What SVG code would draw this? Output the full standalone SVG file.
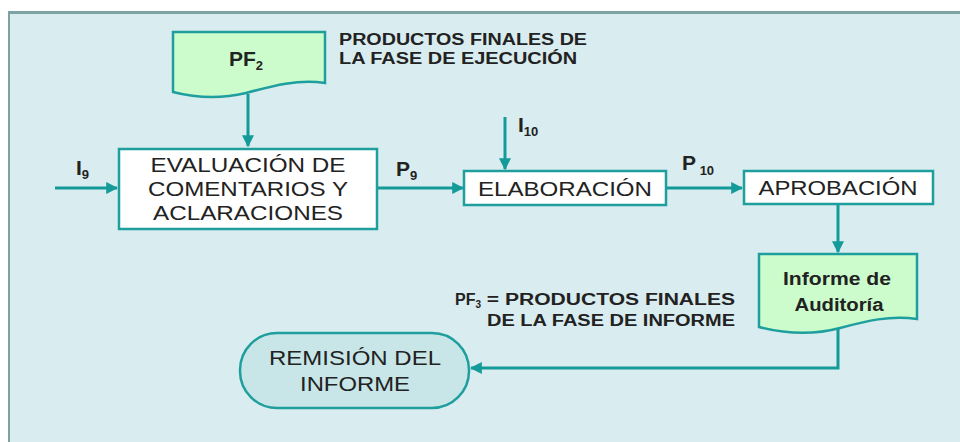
<svg xmlns="http://www.w3.org/2000/svg" width="960" height="442" viewBox="0 0 960 442">
<defs>
<style>
.box{fill:#ffffff;stroke:#1f9e9e;stroke-width:2.5}
.doc{fill:#ccfccc;stroke:#1f9e9e;stroke-width:2.5}
.term{fill:#c8e6e8;stroke:#1f9e9e;stroke-width:2.5}
.conn{fill:none;stroke:#159a9a;stroke-width:3}
.t{font-family:"Liberation Sans",Arial,sans-serif;fill:#222222}
.big{font-size:21px;text-anchor:middle}
.lbl{font-size:21px;font-weight:bold}
.sub{font-size:13px;font-weight:bold}
.note{font-size:16px;font-weight:bold}
.doct{font-size:18px;font-weight:bold;text-anchor:middle}
</style>
<marker id="ah" viewBox="0 0 10 10" refX="9" refY="5" markerWidth="4" markerHeight="4" orient="auto" markerUnits="strokeWidth">
<path d="M0,0 L10,5 L0,10 Z" fill="#159a9a"/>
</marker>
</defs>
<rect x="0" y="0" width="960" height="442" fill="#ffffff"/>
<rect x="8" y="12" width="952" height="430" fill="#d9ecef"/>
<rect x="8" y="11" width="952" height="3" fill="#7fa3a5"/>
<rect x="8" y="11" width="2" height="431" fill="#7fa3a5"/>

<g id="connectors">
<path class="conn" d="M248,94 V146" marker-end="url(#ah)"/>
<path class="conn" d="M55,188 H117" marker-end="url(#ah)"/>
<path class="conn" d="M377,188 H463" marker-end="url(#ah)"/>
<path class="conn" d="M505,117 V169" marker-end="url(#ah)"/>
<path class="conn" d="M666,188 H742" marker-end="url(#ah)"/>
<path class="conn" d="M838,204 V252" marker-end="url(#ah)"/>
<path class="conn" d="M838,328 V368 H471" marker-end="url(#ah)"/>
</g>

<g id="pf2">
<path class="doc" d="M173,32 H325 V83 C297,79 272,86 246,93 C221,99 196,98 173,92 Z"/>
<text class="t lbl" x="229" y="66">PF<tspan class="sub" dy="4">2</tspan></text>
</g>

<g id="note-pf2">
<text class="t note" x="339" y="45" textLength="248" lengthAdjust="spacingAndGlyphs">PRODUCTOS FINALES DE</text>
<text class="t note" x="339" y="64" textLength="238" lengthAdjust="spacingAndGlyphs">LA FASE DE EJECUCIÓN</text>
</g>

<g id="evaluacion">
<rect class="box" x="119" y="149" width="258" height="80"/>
<text class="t big" x="248" y="172" textLength="195" lengthAdjust="spacingAndGlyphs">EVALUACIÓN DE</text>
<text class="t big" x="248" y="196" textLength="200" lengthAdjust="spacingAndGlyphs">COMENTARIOS Y</text>
<text class="t big" x="248" y="220" textLength="190" lengthAdjust="spacingAndGlyphs">ACLARACIONES</text>
</g>

<g id="label-i9">
<text class="t lbl" x="76" y="175">I<tspan class="sub" dy="4">9</tspan></text>
</g>
<g id="label-p9">
<text class="t lbl" x="396" y="176">P<tspan class="sub" dy="4">9</tspan></text>
</g>
<g id="label-i10">
<text class="t lbl" x="518" y="132">I<tspan class="sub" dy="4">10</tspan></text>
</g>
<g id="label-p10">
<text class="t lbl" x="682" y="170">P<tspan class="sub" dy="5"> 10</tspan></text>
</g>

<g id="elaboracion">
<rect class="box" x="464" y="171" width="202" height="34"/>
<text class="t big" x="565" y="196" textLength="174" lengthAdjust="spacingAndGlyphs">ELABORACIÓN</text>
</g>

<g id="aprobacion">
<rect class="box" x="744" y="171" width="189" height="33"/>
<text class="t big" x="838" y="195" textLength="159" lengthAdjust="spacingAndGlyphs">APROBACIÓN</text>
</g>

<g id="informe">
<path class="doc" d="M759,254 H917 V319 C890,315 866,321 840,328 C814,335 786,334 759,327 Z"/>
<text class="t doct" x="837" y="285" textLength="108" lengthAdjust="spacingAndGlyphs">Informe de</text>
<text class="t doct" x="839" y="311" textLength="89" lengthAdjust="spacingAndGlyphs">Auditoría</text>
</g>

<g id="note-pf3">
<text class="t note" x="455" y="305">PF<tspan font-size="10" dy="3">3</tspan><tspan dy="-3" textLength="254" lengthAdjust="spacingAndGlyphs"> = PRODUCTOS FINALES</tspan></text>
<text class="t note" x="735" y="326" text-anchor="end" textLength="248" lengthAdjust="spacingAndGlyphs">DE LA FASE DE INFORME</text>
</g>

<g id="remision">
<rect class="term" x="240" y="333" width="229" height="75" rx="37" ry="37"/>
<text class="t big" x="355" y="365" textLength="172" lengthAdjust="spacingAndGlyphs">REMISIÓN DEL</text>
<text class="t big" x="355" y="391" textLength="110" lengthAdjust="spacingAndGlyphs">INFORME</text>
</g>
</svg>
